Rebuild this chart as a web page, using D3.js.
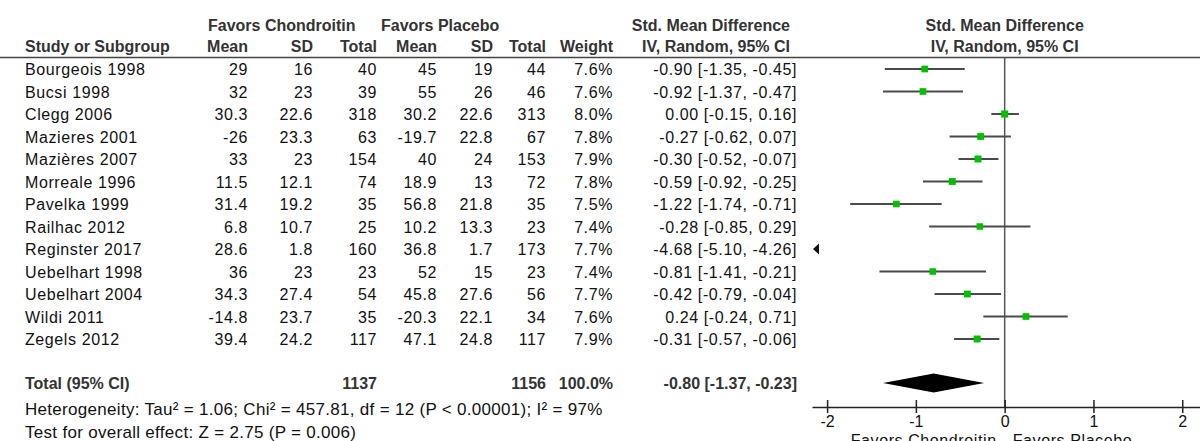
<!DOCTYPE html>
<html>
<head>
<meta charset="utf-8">
<script src="https://cdn.jsdelivr.net/npm/d3@7"></script>
<style>
  body { margin: 0; background: #fff; }
  svg { display: block; font-family: "Liberation Sans", Arial, sans-serif; }
  .hdr { font-weight: bold; fill: #333; font-size: 16px; }
  .cell { fill: #111; font-size: 16px; letter-spacing: 0.6px; }
</style>
</head>
<body>
<div id="app"></div>
<script>
const studies = ["Bourgeois 1998", "Bucsi 1998", "Clegg 2006", "Mazieres 2001", "Mazières 2007",
  "Morreale 1996", "Pavelka 1999", "Railhac 2012", "Reginster 2017", "Uebelhart 1998",
  "Uebelhart 2004", "Wildi 2011", "Zegels 2012"];
const chMean = [29, 32, 30.3, -26, 33, 11.5, 31.4, 6.8, 28.6, 36, 34.3, -14.8, 39.4];
const chSD = [16, 23, 22.6, 23.3, 23, 12.1, 19.2, 10.7, 1.8, 23, 27.4, 23.7, 24.2];
const chTotal = [40, 39, 318, 63, 154, 74, 35, 25, 160, 23, 54, 35, 117];
const plMean = [45, 55, 30.2, -19.7, 40, 18.9, 56.8, 10.2, 36.8, 52, 45.8, -20.3, 47.1];
const plSD = [19, 26, 22.6, 22.8, 24, 13, 21.8, 13.3, 1.7, 15, 27.6, 22.1, 24.8];
const plTotal = [44, 46, 313, 67, 153, 72, 35, 23, 173, 23, 56, 34, 117];
const weight = [7.6, 7.6, 8.0, 7.8, 7.9, 7.8, 7.5, 7.4, 7.7, 7.4, 7.7, 7.6, 7.9];
const smd = [-0.90, -0.92, 0.00, -0.27, -0.30, -0.59, -1.22, -0.28, -4.68, -0.81, -0.42, 0.24, -0.31];
const ciLow = [-1.35, -1.37, -0.15, -0.62, -0.52, -0.92, -1.74, -0.85, -5.10, -1.41, -0.79, -0.24, -0.57];
const ciHigh = [-0.45, -0.47, 0.16, 0.07, -0.07, -0.25, -0.71, 0.29, -4.26, -0.21, -0.04, 0.71, -0.06];

const total = { label: "Total (95% CI)", ch: 1137, pl: 1156, weight: 100.0, smd: -0.80, lo: -1.37, hi: -0.23 };
const heterogeneity = "Heterogeneity: Tau² = 1.06; Chi² = 457.81, df = 12 (P < 0.00001); I² = 97%";
const overall = "Test for overall effect: Z = 2.75 (P = 0.006)";
const axisTicks = [-2, -1, 0, 1, 2];
const axisLabels = ["Favors Chondroitin", "Favors Placebo"];

const width = 1200, height = 441;
const svg = d3.select("#app").append("svg")
  .attr("width", width).attr("height", height)
  .attr("viewBox", [0, 0, width, height]);

const rows = studies.map((s, i) => ({
  study: s, chMean: chMean[i], chSD: chSD[i], chTotal: chTotal[i],
  plMean: plMean[i], plSD: plSD[i], plTotal: plTotal[i],
  weight: weight[i], smd: smd[i], lo: ciLow[i], hi: ciHigh[i]
}));

const y = d3.scalePoint().domain(studies).range([69, 339]);
const x = d3.scaleLinear().domain([-2.17, 2.2]).range([812, 1200]);

// plain hyphen for negatives, like the source table
const loc = d3.formatLocale({ decimal: ".", thousands: ",", grouping: [3], currency: ["", ""], minus: "-" });
const f2 = loc.format(".2f");
const f1 = loc.format(".1f");
const ciText = (m, lo, hi) => `${f2(m)} [${f2(lo)}, ${f2(hi)}]`;

// column right edges in the table
const cols = [
  { key: "chMean", head: "Mean", x: 248, fmt: String },
  { key: "chSD", head: "SD", x: 313, fmt: String },
  { key: "chTotal", head: "Total", x: 377, fmt: String },
  { key: "plMean", head: "Mean", x: 437, fmt: String },
  { key: "plSD", head: "SD", x: 493, fmt: String },
  { key: "plTotal", head: "Total", x: 546, fmt: String },
  { key: "weight", head: "Weight", x: 613, fmt: d => f1(d) + "%" }
];
const ciX = 797;

// header
const hdr = svg.append("g").attr("class", "hdr");
hdr.append("text").attr("x", 208).attr("y", 31).text("Favors Chondroitin");
hdr.append("text").attr("x", 381).attr("y", 31).text("Favors Placebo");
hdr.append("text").attr("x", 790).attr("y", 31).attr("text-anchor", "end").text("Std. Mean Difference");
hdr.append("text").attr("x", 25).attr("y", 52).text("Study or Subgroup");
hdr.selectAll(".colh").data(cols).join("text")
  .attr("x", d => d.x).attr("y", 52).attr("text-anchor", "end").text(d => d.head);
hdr.append("text").attr("x", 790).attr("y", 52).attr("text-anchor", "end").text("IV, Random, 95% CI");
hdr.append("text").attr("x", x(0)).attr("y", 31).attr("text-anchor", "middle").text("Std. Mean Difference");
hdr.append("text").attr("x", x(0)).attr("y", 52).attr("text-anchor", "middle").text("IV, Random, 95% CI");

svg.append("line").attr("x1", 0).attr("x2", width).attr("y1", 57.5).attr("y2", 57.5)
  .attr("stroke", "#444").attr("stroke-width", 1.5);

// table rows
const body = svg.append("g").attr("class", "cell");
const rowG = body.selectAll("g").data(rows).join("g")
  .attr("transform", d => `translate(0,${y(d.study) + 6})`);
rowG.append("text").attr("x", 25).text(d => d.study);
cols.forEach(c => {
  rowG.append("text").attr("x", c.x).attr("text-anchor", "end").text(d => c.fmt(d[c.key]));
});
rowG.append("text").attr("x", ciX).attr("text-anchor", "end").text(d => ciText(d.smd, d.lo, d.hi));

// total row
const yTot = 383;
const tot = svg.append("g").attr("class", "hdr").attr("transform", `translate(0,${yTot + 6})`);
tot.append("text").attr("x", 25).text(total.label);
tot.append("text").attr("x", 377).attr("text-anchor", "end").text(total.ch);
tot.append("text").attr("x", 546).attr("text-anchor", "end").text(total.pl);
tot.append("text").attr("x", 613).attr("text-anchor", "end").text(f1(total.weight) + "%");
tot.append("text").attr("x", ciX).attr("text-anchor", "end").text(ciText(total.smd, total.lo, total.hi));

body.append("text").attr("x", 25).attr("y", 415)
  .style("font-size", "17px").style("letter-spacing", "0.3px").text(heterogeneity);
body.append("text").attr("x", 25).attr("y", 438)
  .style("font-size", "17px").style("letter-spacing", "0.3px").text(overall);

// forest plot
const axisY = 407;
svg.append("line").attr("x1", x(0)).attr("x2", x(0)).attr("y1", 57.5).attr("y2", axisY)
  .attr("stroke", "#555").attr("stroke-width", 1.5);

const plot = svg.append("g");
const inRange = rows.filter(d => d.hi >= x.domain()[0]);
plot.selectAll(".ci").data(inRange).join("line")
  .attr("x1", d => x(Math.max(d.lo, x.domain()[0]))).attr("x2", d => x(d.hi))
  .attr("y1", d => y(d.study)).attr("y2", d => y(d.study))
  .attr("stroke", "#4a4a4a").attr("stroke-width", 2);
plot.selectAll(".pt").data(inRange).join("rect")
  .attr("x", d => x(d.smd) - d.weight * 0.44)
  .attr("y", d => y(d.study) - d.weight * 0.44)
  .attr("width", d => d.weight * 0.88).attr("height", d => d.weight * 0.88)
  .attr("fill", "#00c000");
// off-scale studies: arrow at the left edge
plot.selectAll(".arrow").data(rows.filter(d => d.hi < x.domain()[0])).join("path")
  .attr("d", d => {
    const x0 = x.range()[0] + 1, yy = y(d.study);
    return `M${x0},${yy}L${x0 + 6},${yy - 5.5}L${x0 + 6},${yy + 5.5}Z`;
  })
  .attr("fill", "#111");

// pooled diamond
plot.append("path")
  .attr("d", `M${x(total.lo)},${yTot}L${x(total.smd)},${yTot - 9.5}L${x(total.hi)},${yTot}L${x(total.smd)},${yTot + 9.5}Z`)
  .attr("fill", "#000");

// axis
const axis = svg.append("g").attr("transform", `translate(0,${axisY})`)
  .call(d3.axisBottom(x).tickValues(axisTicks).tickSize(6).tickSizeOuter(0).tickFormat(d => String(d)));
axis.select(".domain").attr("stroke", "#222").attr("stroke-width", 1.5);
axis.selectAll(".tick line").attr("y1", -7).attr("stroke", "#222").attr("stroke-width", 1.5);
axis.selectAll(".tick text").attr("y", 9).attr("fill", "#111")
  .style("font-size", "16px").style("font-family", "Liberation Sans, Arial, sans-serif");

svg.append("text").attr("class", "cell").attr("x", x(0) - 8).attr("y", 446)
  .attr("text-anchor", "end").text(axisLabels[0]);
svg.append("text").attr("class", "cell").attr("x", x(0) + 8).attr("y", 446)
  .text(axisLabels[1]);
</script>
</body>
</html>
